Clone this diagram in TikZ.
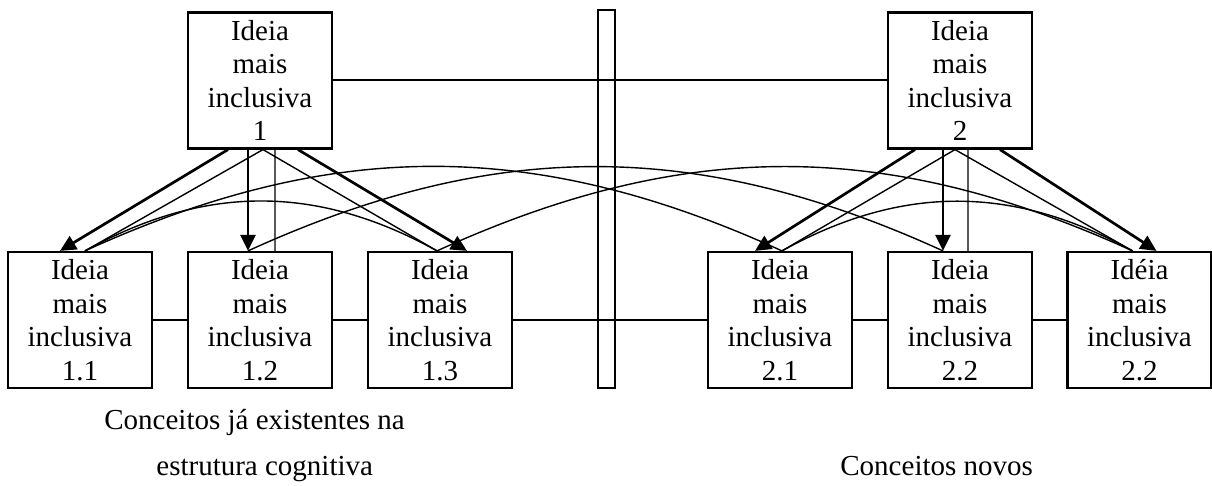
\documentclass[tikz,border=0pt]{standalone}
\usepackage{fontspec}
\setmainfont{Liberation Serif}
\usepackage{tikz}
\usetikzlibrary{arrows.meta}

\begin{document}
\begin{tikzpicture}[x=0.5pt,y=0.5pt,>={Triangle[length=8pt,width=7.5pt]},
ideia/.style={draw,line width=1.1pt,minimum width=72pt,minimum height=68pt,inner sep=0pt,align=center,font=\fontsize{14.5}{16.75}\selectfont},
legenda/.style={anchor=base west,inner sep=0pt,font=\fontsize{14.5}{16.75}\selectfont},
grossa/.style={->,line width=1.35pt},
fina/.style={line width=0.7pt}]
\useasboundingbox (0,0) rectangle (1212,486);
\node[ideia](i1) at (260,405.5){Ideia\\mais\\inclusiva\\1};
\node[ideia](i2) at (960,405.5){Ideia\\mais\\inclusiva\\2};
\node[ideia](i11) at (80,166){Ideia\\mais\\inclusiva\\1.1};
\node[ideia](i12) at (260,166){Ideia\\mais\\inclusiva\\1.2};
\node[ideia](i13) at (440,166){Ideia\\mais\\inclusiva\\1.3};
\node[ideia](i21) at (780,166){Ideia\\mais\\inclusiva\\2.1};
\node[ideia](i22) at (960,166){Ideia\\mais\\inclusiva\\2.2};
\node[ideia](i23) at (1139.5,166){Idéia\\mais\\inclusiva\\2.2};
\node[draw,line width=0.8pt,minimum width=8.5pt,minimum height=189pt,inner sep=0pt](barra) at (606.5,287){};
\node[legenda](existentes) at (104,56){Conceitos já existentes na};
\node[legenda](estrutura) at (156,10){estrutura cognitiva};
\node[legenda](novos) at (840,10){Conceitos novos};
\draw[line width=1pt](i1.east)--(i2.west)
(i11.east)--(i12.west) (i12.east)--(i13.west) (i13.east)--(i21.west)
(i21.east)--(i22.west) (i22.east)--(i23.west);
\draw[grossa]([xshift=-16pt]i1.south)--([xshift=-10pt]i11.north);
\draw[grossa]([xshift=-6pt]i1.south)--([xshift=-6pt]i12.north);
\draw[grossa]([xshift=19pt]i1.south)--([xshift=13.5pt]i13.north);
\draw[fina]([xshift=1.5pt]i1.south)--([xshift=2.5pt]i11.north)
([xshift=7.5pt]i1.south)--([xshift=7.5pt]i12.north)
([xshift=1.5pt]i1.south)--([xshift=-1.5pt]i13.north);
\draw[grossa]([xshift=-22.5pt]i2.south)--([xshift=-12.5pt]i21.north);
\draw[grossa]([xshift=-8.5pt]i2.south)--([xshift=-8.5pt]i22.north);
\draw[grossa]([xshift=20pt]i2.south)--([xshift=8.5pt]i23.north);
\draw[fina]([xshift=-2.5pt]i2.south)--([xshift=1pt]i21.north)
([xshift=4pt]i2.south)--([xshift=4pt]i22.north)
([xshift=-2.5pt]i2.south)--([xshift=-3.5pt]i23.north);
\draw[fina]([xshift=2.5pt]i11.north) to[bend left=29] ([xshift=-1.5pt]i13.north);
\draw[fina]([xshift=1pt]i21.north) to[bend left=29] ([xshift=-3.5pt]i23.north);
\draw[fina]([xshift=2.5pt]i11.north) to[bend left=24.5] ([xshift=1pt]i21.north);
\draw[fina]([xshift=-6pt]i12.north) to[bend left=24.5] ([xshift=-8.5pt]i22.north);
\draw[fina]([xshift=-1.5pt]i13.north) to[bend left=24.5] ([xshift=-3.5pt]i23.north);
\end{tikzpicture}
\end{document}
